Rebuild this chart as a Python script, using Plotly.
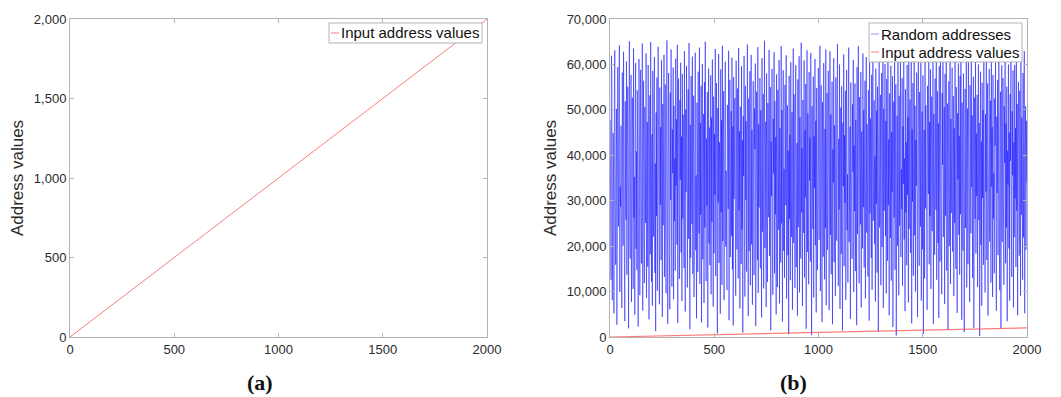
import plotly.graph_objects as go
from plotly.subplots import make_subplots

# ---------------- data ----------------
input_x = [0, 2000]
input_y = [0, 2000]

random_values = [
    47800, 31200, 12600, 61900, 57300, 8100, 22400, 44900, 39500, 5200, 55800, 63100, 27600, 15900, 36400, 50200, 2700, 18800, 59400, 41700,
    24300, 53600, 64200, 9900, 33100, 28700, 46500, 11300, 6400, 58200, 37900, 20100, 62800, 43400, 16700, 3500, 51900, 30600, 25800, 60700,
    13700, 42200, 55100, 34800, 1900, 48600, 65100, 21900, 17300, 38600, 57700, 7700, 29400, 52700, 45100, 10600, 63500, 26300, 35200, 4900,
    49800, 60300, 19400, 40900, 14800, 54300, 32700, 2300, 23900, 61200, 46900, 9200, 37100, 58800, 28100, 16200, 43800, 64600, 5800, 31700,
    56400, 20800, 11900, 50600, 39900, 25100, 62400, 8600, 34300, 47300, 15500, 59900, 41500, 3900, 27800, 53200, 18200, 64900, 36800, 12200,
    44600, 6900, 58600, 30900, 22100, 52300, 61600, 14100, 38200, 1300, 49400, 26700, 57100, 10200, 33600, 63900, 42600, 19700, 7200, 54900,
    29100, 46200, 16900, 60900, 35900, 4400, 51300, 24600, 40200, 62100, 13200, 31500, 55600, 21300, 9600, 48200, 65300, 37600, 2900, 27200,
    58100, 43100, 17900, 6100, 53800, 30200, 63300, 23400, 11100, 45700, 36100, 59300, 8300, 50900, 25500, 39300, 14600, 61300, 33300, 47900,
    20300, 64300, 3100, 41200, 56900, 28400, 12800, 52100, 34600, 60400, 18600, 44100, 7900, 57900, 26100, 48900, 38700, 15200, 62900, 23100,
    5600, 50100, 31900, 59700, 42300, 10900, 36900, 54500, 21600, 64700, 29900, 1700, 46700, 17400, 57400, 33900, 24900, 61700, 13900, 40600,
    53100, 8800, 27300, 45400, 62600, 19100, 35600, 4100, 51600, 39800, 14300, 58400, 30800, 22800, 63700, 11700, 47100, 26900, 55300, 3200,
    41900, 60100, 17100, 32200, 49100, 7500, 56100, 24100, 65000, 36300, 12300, 43700, 28900, 53900, 2100, 38900, 59100, 20600, 46100, 15800,
    33400, 57600, 9400, 48300, 25300, 61100, 40500, 6700, 52900, 18400, 44700, 31300, 63400, 13400, 37300, 55900, 22600, 800, 50400, 29600,
    62300, 16300, 42900, 35100, 5100, 58900, 27500, 47700, 11500, 64100, 21100, 39100, 54100, 8100, 31100, 45900, 60600, 19900, 36600, 24400,
    10300, 51100, 43300, 28200, 63000, 3700, 40100, 56600, 17600, 33700, 49700, 22300, 61500, 14900, 46400, 2500, 57200, 30400, 38100, 52600,
    25700, 9100, 60800, 41100, 19300, 54700, 34100, 12900, 63600, 27900, 45300, 6300, 50700, 37700, 16100, 59600, 23700, 43300, 1000, 48600,
    35400, 61900, 21700, 8900, 55300, 30100, 47500, 14400, 39700, 64400, 26500, 4600, 52500, 18900, 42500, 58500, 11400, 33100, 62100, 20400,
    45600, 7100, 37400, 56300, 29100, 13600, 50300, 41400, 60200, 2400, 24700, 54000, 35700, 17000, 63800, 9700, 46900, 28500, 39500, 57000,
    15100, 49900, 32500, 4300, 61400, 23200, 44300, 53500, 10700, 36700, 65200, 19600, 28000, 47400, 6600, 58000, 34900, 12100, 51500, 40700,
    26400, 63200, 17800, 38400, 55000, 1500, 43000, 31000, 59000, 21000, 9300, 48000, 36000, 62700, 14000, 52000, 27000, 44000, 5000, 57800,
    30500, 11000, 54400, 40000, 23600, 61000, 7400, 46000, 33000, 16400, 64000, 25000, 50000, 3400, 42000, 58700, 19000, 37000, 13000, 55500,
    47000, 29000, 62000, 8400, 35500, 51000, 18000, 41000, 600, 57500, 26000, 44500, 12500, 60500, 32000, 22000, 49500, 6000, 39000, 63500,
    20700, 53400, 34200, 10800, 46300, 59800, 15400, 28800, 42700, 4700, 56700, 24200, 38300, 61800, 9800, 48400, 31600, 17300, 64800, 27400,
    41600, 6800, 52200, 36200, 22900, 60900, 13100, 45500, 30700, 55700, 1800, 39600, 63100, 18700, 49200, 26800, 11600, 58300, 34400, 43900,
    16600, 62500, 28300, 400, 50800, 37200, 23800, 57300, 8700, 44200, 32800, 61200, 20200, 47600, 5400, 54800, 39400, 14700, 29700, 59200,
    36500, 21400, 48800, 64100, 10100, 42800, 55400, 26200, 3300, 51700, 33500, 17700, 60300, 40300, 12700, 45800, 24000, 63300, 7000, 35300,
    53700, 19200, 30300, 58600, 44800, 5900, 38000, 62900, 22500, 49000, 13800, 27100, 56200, 2800, 41300, 34000, 61400, 16500, 46600, 25200,
    9000, 57100, 39200, 21200, 52400, 64500, 31400, 11200, 43600, 28100, 60000, 6200, 37800, 50500, 18300, 55200, 25900, 1400, 47200, 33200,
    62200, 15600, 44400, 29500, 54200, 8200, 40800, 58800, 23500, 35800, 12000, 49300, 63700, 20900, 31800, 46300, 4000, 56000, 38800, 26600,
    17200, 51200, 36400, 61000, 9900, 42100, 27700, 55800, 14500, 47800, 33800, 2600, 59400, 22700, 43200, 64000, 30000, 11800, 52800, 39000,
    24800, 58300, 6500, 45200, 35000, 19500, 62400, 28600, 50000, 15300, 40500, 56400, 8500, 37500, 61600, 23000, 46800, 31200, 13300, 54300,
    42400, 3600, 60700, 27200, 48100, 36700, 17400, 57700, 10400, 44600, 63000, 25600, 33200, 52100, 20500, 39800, 7800, 59100, 29300, 49800,
    14200, 55100, 38600, 1200, 46100, 61700, 24100, 32600, 53300, 11400, 42300, 58100, 19800, 35600, 64300, 6400, 50200, 27800, 40100, 60100,
    22200, 47500, 9600, 56800, 34600, 16800, 62600, 29000, 43500, 4800, 53600, 37000, 21800, 59700, 12400, 45100, 31900, 57400, 2200, 38200,
    51800, 26300, 61300, 14800, 41700, 55600, 300, 30800, 48700, 20100, 63600, 35400, 9200, 53100, 24500, 44100, 60600, 17600, 36900, 28200,
    57000, 11300, 46400, 33700, 62800, 21500, 39300, 5700, 54500, 27400, 42900, 15800, 59900, 31300, 48400, 7600, 63900, 23800, 40900, 52300,
    18500, 35900, 60900, 3000, 45700, 29800, 55900, 13500, 38700, 61500, 22400, 50900, 10000, 43400, 33300, 58200, 26000, 4400, 47900, 64200,
    30200, 15700, 53900, 41000, 24300, 60400, 8000, 37600, 49600, 19300, 57600, 700, 34800, 45600, 12900, 62000, 28300, 51000, 39700, 21100,
    6000, 55300, 43800, 31500, 63400, 16000, 47300, 26600, 58900, 10600, 40400, 52900, 23300, 36300, 61200, 2900, 49100, 33600, 18100, 56900,
    44900, 28000, 61800, 12600, 39100, 54100, 20700, 47000, 4200, 59600, 32400, 16600, 63200, 41800, 25300, 9400, 53700, 37900, 60700, 22000,
    34100, 50600, 7300, 57900, 26700, 44000, 62700, 14600, 36000, 51400, 1600, 40600, 56300, 20000, 30900, 61900, 11700, 48000, 27300, 42600,
    59300, 18800, 38400, 53000, 9000, 46000, 25100, 63000, 31000, 15000, 55000, 41500, 5300, 49300, 34700, 60200, 22500, 44300, 13700, 57500,
    27000, 62300, 40000, 3800, 51600, 35200, 19000, 58000, 45000, 1100, 30000, 54600, 24000, 42000, 61100, 10900, 37000, 50300, 16000, 63600,
    46700, 29400, 7700, 55400, 39900, 22800, 60800, 33000, 48800, 13000, 41900, 57300, 2000, 36100, 52700, 26000, 62000, 18400, 44800, 31000,
    53300, 11000, 39500, 60000, 25700, 47100, 200, 35000, 58400, 20300, 43000, 6900, 56000, 30600, 50000, 15900, 61500, 38000, 24600, 9800,
    49000, 32000, 61000, 17000, 44500, 55800, 4700, 28000, 40800, 59000, 21000, 37300, 52000, 12000, 63100, 33100, 46200, 8800, 57700, 26100,
    36000, 14000, 52500, 42100, 60400, 23100, 5800, 48500, 31700, 56600, 18000, 39000, 62600, 27100, 10300, 45300, 54000, 1900, 34200, 59800,
    20900, 43700, 57000, 29200, 11500, 50800, 38300, 62000, 16200, 47000, 24100, 55100, 3500, 41000, 33500, 60000, 19500, 45000, 8000, 53500,
    38800, 61200, 25400, 13200, 49700, 35600, 58700, 6500, 42800, 22000, 59900, 30500, 46000, 15400, 63000, 27800, 51300, 4800, 40000, 56200,
    31400, 17900, 54200, 44200, 9100, 61400, 26900, 48300, 37400, 12600, 58100, 21900, 43100, 62900, 5200, 35000, 50800, 19200, 47600, 33900,
]
random_x = list(range(1, 2001, 2))

x_ticks = [0, 500, 1000, 1500, 2000]
y_ticks_a = [0, 500, 1000, 1500, 2000]
y_ticks_b = [0, 10000, 20000, 30000, 40000, 50000, 60000, 70000]

W, H = 1061, 397
FONT = "Liberation Sans, Arial, sans-serif"
BLUE = "rgba(10,10,255,0.72)"
BLUE_LEG = "rgba(60,60,255,0.55)"
RED = "rgba(255,80,80,0.75)"
AX = "#b3b3b3"
TXT = "#2b2b2b"


def px(x):
    return x / W


def py(y):
    return 1 - y / H


fig = make_subplots(rows=1, cols=2)

fig.add_trace(go.Scatter(x=input_x, y=input_y, mode="lines", name="Input address values",
                         line=dict(color=RED, width=1), showlegend=False), row=1, col=1)
fig.add_trace(go.Scatter(x=random_x, y=random_values, mode="lines", name="Random addresses",
                         line=dict(color=BLUE, width=0.7, simplify=False), showlegend=False), row=1, col=2)
fig.add_trace(go.Scatter(x=input_x, y=input_y, mode="lines", name="Input address values",
                         line=dict(color=RED, width=1.2), showlegend=False), row=1, col=2)

axis_common = dict(showgrid=False, zeroline=False, showline=True, linecolor=AX, linewidth=1,
                   mirror="ticks", ticks="inside", ticklen=4, tickcolor=AX, automargin=False,
                   tickfont=dict(family=FONT, size=13, color=TXT))
ytitle = dict(text="Address values", standoff=5, font=dict(family=FONT, size=17, color=TXT))

fig.update_layout(
    xaxis=dict(**axis_common, domain=[px(70), px(487)], range=[0, 2000], tickvals=x_ticks, tickformat="d"),
    xaxis2=dict(**axis_common, domain=[px(610), px(1027)], range=[0, 2000], tickvals=x_ticks, tickformat="d"),
    yaxis=dict(**axis_common, domain=[py(337), py(19)], range=[0, 2000], tickvals=y_ticks_a,
               tickformat=",", title=ytitle),
    yaxis2=dict(**axis_common, domain=[py(337), py(19)], range=[0, 70000], tickvals=y_ticks_b,
                tickformat=",", title=ytitle),
    width=W, height=H, margin=dict(l=0, r=0, t=0, b=0),
    plot_bgcolor="white", paper_bgcolor="white", showlegend=False,
)

# manual legends (boxes, sample lines, labels)
shapes = []
annotations = []


def legend(x0, y0, x1, y1, items):
    shapes.append(dict(type="rect", xref="paper", yref="paper", x0=px(x0), x1=px(x1), y0=py(y1), y1=py(y0),
                       line=dict(color=AX, width=1), fillcolor="white", layer="above"))
    for (label, color, yc) in items:
        shapes.append(dict(type="line", xref="paper", yref="paper", x0=px(x0 + 2), x1=px(x0 + 10),
                           y0=py(yc), y1=py(yc), line=dict(color=color, width=1), layer="above"))
        annotations.append(dict(text=label, xref="paper", yref="paper", x=px(x0 + 10), y=py(yc),
                                xanchor="left", yanchor="middle", showarrow=False,
                                font=dict(family=FONT, size=15, color="#111111")))


legend(329, 23, 482, 43, [("Input address values", RED, 33)])
legend(869, 23, 1022, 62, [("Random addresses", BLUE_LEG, 34), ("Input address values", RED, 52)])

for lab, xc in (("(a)", 260), ("(b)", 793)):
    annotations.append(dict(text="<b>" + lab + "</b>", xref="paper", yref="paper", x=px(xc), y=py(382),
                            xanchor="center", yanchor="middle", showarrow=False,
                            font=dict(family="Liberation Serif, DejaVu Serif, serif", size=22, color="#111111")))

fig.update_layout(shapes=shapes, annotations=annotations)
fig.write_html("out.html", config={"displayModeBar": False},
               post_script="document.body.style.margin='0px';document.body.style.overflow='hidden';")
